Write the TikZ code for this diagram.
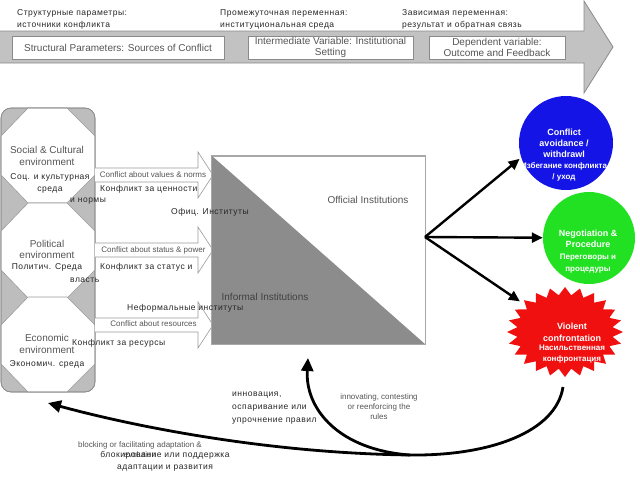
\documentclass[tikz,border=0pt]{standalone}
\usepackage{fontspec}
\setmainfont{Liberation Sans}
\newfontfamily\ru[LetterSpace=6]{Liberation Sans}
\usetikzlibrary{arrows.meta,shapes.geometric}
\definecolor{bandfill}{HTML}{C2C2C2}
\definecolor{bandline}{HTML}{8A8A8A}
\definecolor{boxline}{HTML}{8A8A8A}
\definecolor{panelfill}{HTML}{BDBDBD}
\definecolor{panelline}{HTML}{8A8A8A}
\definecolor{octline}{HTML}{9A9A9A}
\definecolor{sqline}{HTML}{A8A8A8}
\definecolor{trifill}{HTML}{8C8C8C}
\definecolor{engray}{HTML}{555555}
\definecolor{rutext}{HTML}{262626}
\definecolor{cblue}{HTML}{1414E6}
\definecolor{cgreen}{HTML}{22E022}
\definecolor{cred}{HTML}{F01010}
\newcommand\fs[2]{\fontsize{#1}{#2}\selectfont}
\begin{document}
\begin{tikzpicture}[x=1pt,y=-1pt,
  en/.style={text=engray, align=center, inner sep=0, font=\fs{8}{10}},
  enbig/.style={text=engray, align=center, inner sep=0, font=\fs{10}{11.5}},
  rulab/.style={text=rutext, align=left, inner sep=0, font=\ru\fs{8.5}{11.5}},
  rucen/.style={text=rutext, align=center, inner sep=0, font=\ru\fs{8.5}{12}},
  hdrbox/.style={draw=boxline, fill=white, line width=0.8pt, inner sep=0, minimum height=23pt, text=engray, align=center, font=\fs{10}{11.5}},
  octo/.style={fill=white, draw=octline, line width=0.6pt},
  blockarrow/.style={fill=white, draw=octline, line width=0.6pt},
  hubarrow/.style={line width=2.4pt, black, -{Triangle[length=11pt,width=10pt]}},
  fbline/.style={line width=2.8pt, black},
  fbarrow/.style={line width=2.8pt, black, -{Triangle[length=13pt,width=12pt]}},
  wtxt/.style={text=white, align=center, inner sep=0, font=\bfseries\fs{9}{11}},
  wtxtru/.style={text=white, align=center, inner sep=0, font=\bfseries\fs{8}{11}}
]
\useasboundingbox (0,0) rectangle (640,480);

% top band arrow
\draw[fill=bandfill, draw=bandline, line width=0.8pt]
  (-2,31) -- (584,31) -- (584,1) -- (613,47) -- (584,93) -- (584,63) -- (-2,63) -- cycle;
\node[hdrbox, minimum width=212pt] (b1) at (118,47.5) {Structural Parameters: Sources of Conflict};
\node[hdrbox, minimum width=165pt] (b2) at (330.5,47.5) {Intermediate Variable: Institutional\\Setting};
\node[hdrbox, minimum width=136pt] (b3) at (497,47.5) {Dependent variable:\\Outcome and Feedback};
\node[rulab, anchor=west] (t1) at (17,19.5) {Структурные параметры:\\источники конфликта};
\node[rulab, anchor=west] (t2) at (220,19.5) {Промежуточная переменная:\\институциональная среда};
\node[rulab, anchor=west] (t3) at (402,19.5) {Зависимая переменная:\\результат и обратная связь};

% left panel
\draw[fill=panelfill, draw=panelline, line width=0.6pt, rounded corners=10pt] (1,108) rectangle (95,392);
\foreach \y in {108,203,297} {
  \draw[octo] (28,\y) -- (67,\y) -- (95,{\y+28}) -- (95,{\y+67}) -- (67,{\y+95}) -- (28,{\y+95}) -- (1,{\y+67}) -- (1,{\y+28}) -- cycle;
}
\draw[panelline, line width=0.6pt, rounded corners=10pt] (1,108) rectangle (95,392);

% block arrows
\foreach \c in {175,250,325} {
  \draw[blockarrow] (95,{\c-7}) -- (198,{\c-7}) -- (198,{\c-23}) -- (213,\c) -- (198,{\c+23}) -- (198,{\c+7}) -- (95,{\c+7});
}

% institutions square
\node[draw=sqline, fill=white, line width=0.8pt, minimum width=213pt, minimum height=188pt, inner sep=0] (inst) at (318.5,250) {};
\fill[trifill] (inst.north west) -- (inst.south east) -- (inst.south west) -- cycle;
\draw[sqline, line width=0.8pt] (inst.north west) rectangle (inst.south east);
\node[enbig] (off) at (368,200) {Official Institutions};
\node[enbig, text=black!75] (inf) at (265,297) {Informal Institutions};

% octagon texts
\node[enbig] (soc) at (47,156) {Social \& Cultural\\environment};
\node[rucen] (socru) at (50,183) {Соц. и культурная\\среда};
\node[enbig] (pol) at (47,249.5) {Political\\environment};
\node[rucen] (polru) at (47,267) {Политич. Среда};
\node[enbig] (eco) at (47,344) {Economic\\environment};
\node[rucen] (ecoru) at (47,364) {Экономич. среда};

% arrow labels
\node[en] (a1) at (153,175) {Conflict about values \& norms};
\node[en] (a2) at (153.5,250) {Conflict about status \& power};
\node[en] (a3) at (153.5,324) {Conflict about resources};
\node[rulab, anchor=west] (r1) at (100,189) {Конфликт за ценности};
\node[rulab, anchor=west] (r1b) at (70,201) {и нормы};
\node[rulab, anchor=west] (r2) at (100,267) {Конфликт за статус и};
\node[rulab, anchor=west] (r2b) at (70,280) {власть};
\node[rulab, anchor=west] (r3) at (72,343) {Конфликт за ресурсы};
\node[rulab, anchor=west] (nf) at (127,308) {Неформальные институты};
\node[rulab, anchor=west] (of) at (171,212) {Офиц. Институты};

% outcomes
\node[circle, fill=cblue, minimum size=94pt, inner sep=0] (blue) at (566,143) {};
\node[wtxt] (bluetx) at (564,143) {Conflict\\avoidance /\\withdrawl};
\node[wtxtru] (bluetr) at (564,171.5) {Избегание конфликта\\/ уход};

\node[circle, fill=cgreen, minimum size=92pt, inner sep=0] (green) at (589,238) {};
\node[wtxt] (greentx) at (588,238.5) {Negotiation \&\\Procedure};
\node[wtxtru, font=\bfseries\fs{8}{12.5}] (greentr) at (588,263.5) {Переговоры и\\процедуры};

\fill[cred] ({565+58},332) \foreach \i in {0,...,23} {
   -- ({565+58*cos(15*\i)},{332+45*sin(15*\i)})
   -- ({565+48*cos(15*\i+7.5)},{332+37*sin(15*\i+7.5)}) } -- cycle;
\node[ellipse, minimum width=120pt, minimum height=92pt, inner sep=0] (red) at (565,332) {};
\node[wtxt, font=\bfseries\fs{9}{12}] (redtx) at (572,332) {Violent\\confrontation};
\node[wtxtru, font=\bfseries\fs{8}{10.5}] (redtr) at (572,354) {Насильственная\\конфронтация};

% hub arrows
\coordinate (hub) at (425,237);
\draw[hubarrow, shorten >=2pt] (hub) -- (blue.198);
\draw[hubarrow] (hub) -- (green);
\draw[hubarrow] (hub) -- (red);

% feedback curves
\coordinate (fbs) at (563,387);
\coordinate (fbm) at (410,455);
\coordinate (fbl) at (48,403);
\coordinate (fbu) at (308,358);
\draw[fbline] (fbs) .. controls (556,432) and (490,456) .. (fbm);
\draw[fbarrow] (fbm) .. controls (260,453) and (125,424) .. (fbl);
\draw[fbarrow] (fbm) .. controls (340,450) and (305,410) .. (fbu);

% feedback labels
\node[rulab, anchor=west, font=\ru\fs{8.5}{13}] (inn) at (232,408) {инновация,\\оспаривание или\\упрочнение правил};
\node[en] (innen) at (379,407) {innovating, contesting\\or reenforcing the\\rules};
\node[en] (blk) at (140,445) {blocking or facilitating adaptation \&};
\node[en] (evo) at (140,455) {evolution};
\node[rucen] (blkru) at (165,461) {блокирование или поддержка\\адаптации и развития};
\end{tikzpicture}
\end{document}
